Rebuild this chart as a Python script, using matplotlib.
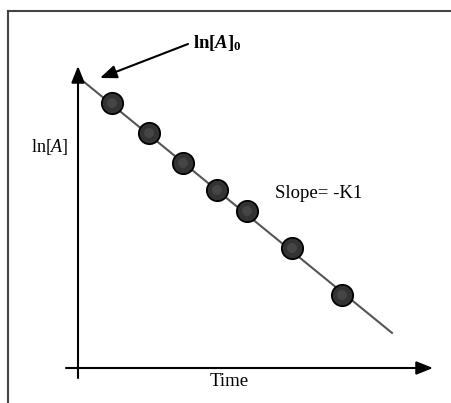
import matplotlib
matplotlib.use("Agg")
import matplotlib.pyplot as plt
import numpy as np

# Data (arbitrary units)
time = [0.34, 0.71, 1.05, 1.39, 1.69, 2.14, 2.64]
ln_a = [2.65, 2.35, 2.05, 1.78, 1.57, 1.20, 0.73]
ln_a0 = 2.91
k1 = 0.815
t_end = 3.14

plt.rcParams['font.family'] = ['Liberation Serif', 'DejaVu Serif']
plt.rcParams['mathtext.fontset'] = 'custom'
plt.rcParams['mathtext.rm'] = 'Liberation Serif'
plt.rcParams['mathtext.it'] = 'Liberation Serif:italic'
plt.rcParams['mathtext.bf'] = 'Liberation Serif:bold'
plt.rcParams['mathtext.bfit'] = 'Liberation Serif:italic:bold'

fig = plt.figure(figsize=(4.52, 4.03), dpi=100)
ax = fig.add_axes([0, 0, 1, 1])
ax.set_xlim(-0.78, 3.74)
ax.set_ylim(-0.35, 3.68)
ax.axis('off')

# frame (top and left borders)
fig.add_artist(plt.Line2D([8/452, 1], [1 - 11/403, 1 - 11/403], color='#444444', lw=1.5,
                          transform=fig.transFigure))
fig.add_artist(plt.Line2D([8/452, 8/452], [0, 1 - 11/403], color='#444444', lw=1.5,
                          transform=fig.transFigure))

# axes arrows
arrow_kw = dict(arrowstyle='-|>,head_length=1.0,head_width=0.4', color='black', lw=1.5,
                shrinkA=0, shrinkB=0)
ax.annotate('', xy=(0, 3.02), xytext=(0, -0.10), arrowprops=arrow_kw)
ax.annotate('', xy=(3.55, 0), xytext=(-0.12, 0), arrowprops=arrow_kw)

# fitted line
tt = np.array([0, t_end])
ax.plot(tt, ln_a0 - k1 * tt, color='#555555', lw=1.5, zorder=2)

# data points
ax.scatter(time, ln_a, s=235, c='#333333', edgecolors='black', linewidths=1.3, zorder=3)
ax.scatter(time, ln_a, s=50, c='#4a4a4a', edgecolors='none', zorder=4, alpha=0.8)

# labels
ax.text(-0.28, 2.21, 'ln[$\\mathit{A}$]', fontsize=13, ha='center', va='center')
ax.text(1.51, -0.14, 'Time', fontsize=13.5, ha='center', va='center')
ax.text(1.97, 1.75, 'Slope= -K1', fontsize=13.5, ha='left', va='center')
ax.text(1.15, 3.25, 'ln[$\\mathbfit{A}$]$_\\mathbf{0}$', fontsize=13.5,
        fontweight='bold', ha='left', va='center')
ax.annotate('', xy=(0.22, 2.90), xytext=(1.10, 3.24),
            arrowprops=dict(arrowstyle='-|>,head_length=1.0,head_width=0.4',
                            color='black', lw=1.5, shrinkA=0, shrinkB=0))

fig.savefig('out.png', dpi=100, facecolor='white')
